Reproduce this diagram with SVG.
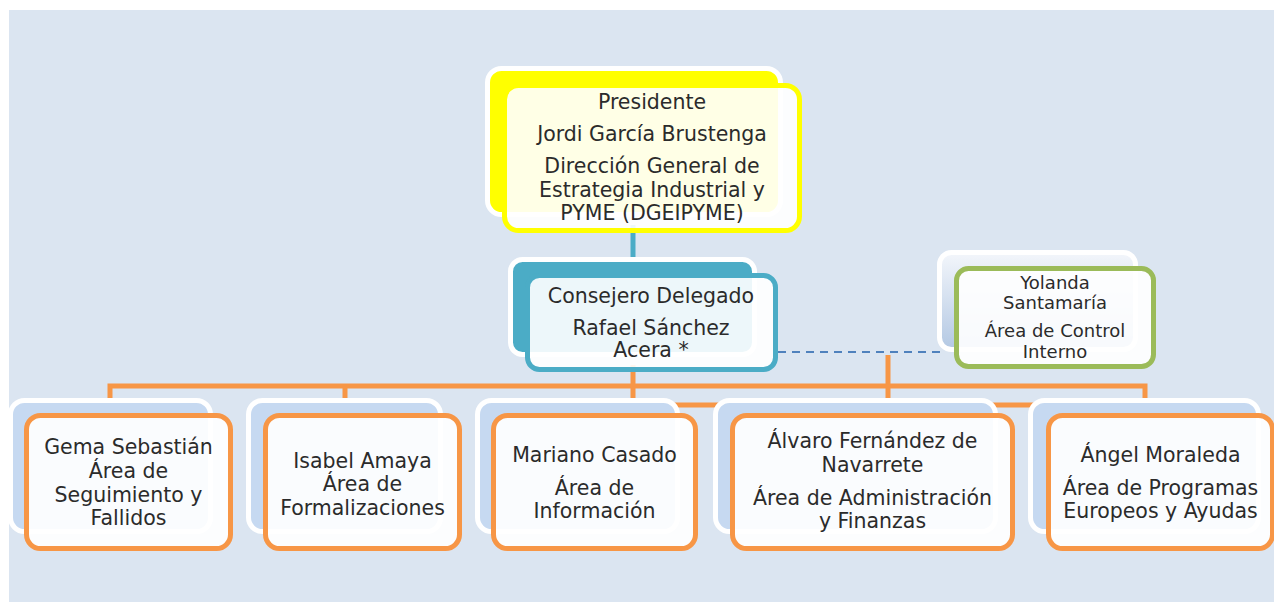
<svg xmlns="http://www.w3.org/2000/svg" width="1274" height="602" viewBox="0 0 1274 602">
<style>
.t{font-family:"DejaVu Sans","Liberation Sans",sans-serif;font-size:20.5px;fill:#2b2b2b;text-anchor:middle}
.s{font-size:18px}
.back{stroke:#ffffff;stroke-width:5}
.front{fill:#ffffff;fill-opacity:0.9;stroke-width:5}
.or{stroke:#f79646}
.bb{fill:#c6d9f1}
.conn{fill:none;stroke-width:5}
</style>
<defs>
<linearGradient id="yg" x1="0" y1="0" x2="0" y2="1">
<stop offset="0" stop-color="#f3f6fb"/>
<stop offset="1" stop-color="#b3c8e3"/>
</linearGradient>
</defs>
<rect x="0" y="0" width="1274" height="602" fill="#ffffff"/>
<rect x="9" y="10" width="1265" height="592" fill="#dbe5f1"/>
<g id="connectors">
<path class="conn" stroke="#4bacc6" d="M633,225 V262"/>
<path class="conn" stroke="#f79646" d="M633,365 V400 M633,405 H1100 M110,400 V386 H1145 V400 M345,386 V400 M888,355 V400"/>
<path fill="none" stroke="#4f81bd" stroke-width="2" stroke-dasharray="8,6" d="M778,352 H945"/>
</g>
<g id="presidente">
<rect class="back" x="487.5" y="68.5" width="293" height="146" rx="14" fill="#ffff00"/>
<rect class="front" x="504.5" y="85.5" width="295" height="145" rx="14" stroke="#ffff00"/>
<text class="t" x="652" y="109">Presidente</text>
<text class="t" x="652" y="141">Jordi García Brustenga</text>
<text class="t" x="652" y="173">Dirección General de</text>
<text class="t" x="652" y="197">Estrategia Industrial y</text>
<text class="t" x="652" y="220">PYME (DGEIPYME)</text>
</g>
<g id="consejero">
<rect class="back" x="510.5" y="259.5" width="244" height="95" rx="12" fill="#4bacc6"/>
<rect class="front" x="527.5" y="275.5" width="248" height="94" rx="12" stroke="#4bacc6"/>
<text class="t" x="651" y="303">Consejero Delegado</text>
<text class="t" x="651" y="335">Rafael Sánchez</text>
<text class="t" x="651" y="357">Acera *</text>
</g>
<g id="yolanda">
<rect class="back" x="939.5" y="252.5" width="196" height="97" rx="12" fill="url(#yg)"/>
<rect class="front" x="956.5" y="268.5" width="197" height="98" rx="12" stroke="#9bbb59"/>
<text class="t s" x="1055" y="289">Yolanda</text>
<text class="t s" x="1055" y="309">Santamaría</text>
<text class="t s" x="1055" y="337">Área de Control</text>
<text class="t s" x="1055" y="358">Interno</text>
</g>
<g id="gema">
<rect class="back bb" x="10.5" y="400.5" width="200" height="131" rx="14"/>
<rect class="front or" x="26.5" y="415.5" width="204" height="133" rx="14"/>
<text class="t" x="128.5" y="454">Gema Sebastián</text>
<text class="t" x="128.5" y="478">Área de</text>
<text class="t" x="128.5" y="502">Seguimiento y</text>
<text class="t" x="128.5" y="525">Fallidos</text>
</g>
<g id="isabel">
<rect class="back bb" x="248.5" y="400.5" width="192" height="131" rx="14"/>
<rect class="front or" x="265.5" y="415.5" width="194" height="133" rx="14"/>
<text class="t" x="362.5" y="468">Isabel Amaya</text>
<text class="t" x="362.5" y="491">Área de</text>
<text class="t" x="362.5" y="515">Formalizaciones</text>
</g>
<g id="mariano">
<rect class="back bb" x="477.5" y="400.5" width="200" height="131" rx="14"/>
<rect class="front or" x="493.5" y="415.5" width="202" height="133" rx="14"/>
<text class="t" x="594.5" y="462">Mariano Casado</text>
<text class="t" x="594.5" y="495">Área de</text>
<text class="t" x="594.5" y="518">Información</text>
</g>
<g id="alvaro">
<rect class="back bb" x="715.5" y="400.5" width="280" height="131" rx="14"/>
<rect class="front or" x="732.5" y="415.5" width="280" height="133" rx="14"/>
<text class="t" x="872.5" y="448">Álvaro Fernández de</text>
<text class="t" x="872.5" y="472">Navarrete</text>
<text class="t" x="872.5" y="505">Área de Administración</text>
<text class="t" x="872.5" y="528">y Finanzas</text>
</g>
<g id="angel">
<rect class="back bb" x="1030.5" y="400.5" width="228" height="131" rx="14"/>
<rect class="front or" x="1048.5" y="415.5" width="224" height="133" rx="14"/>
<text class="t" x="1160.5" y="462">Ángel Moraleda</text>
<text class="t" x="1160.5" y="495">Área de Programas</text>
<text class="t" x="1160.5" y="518">Europeos y Ayudas</text>
</g>
</svg>
